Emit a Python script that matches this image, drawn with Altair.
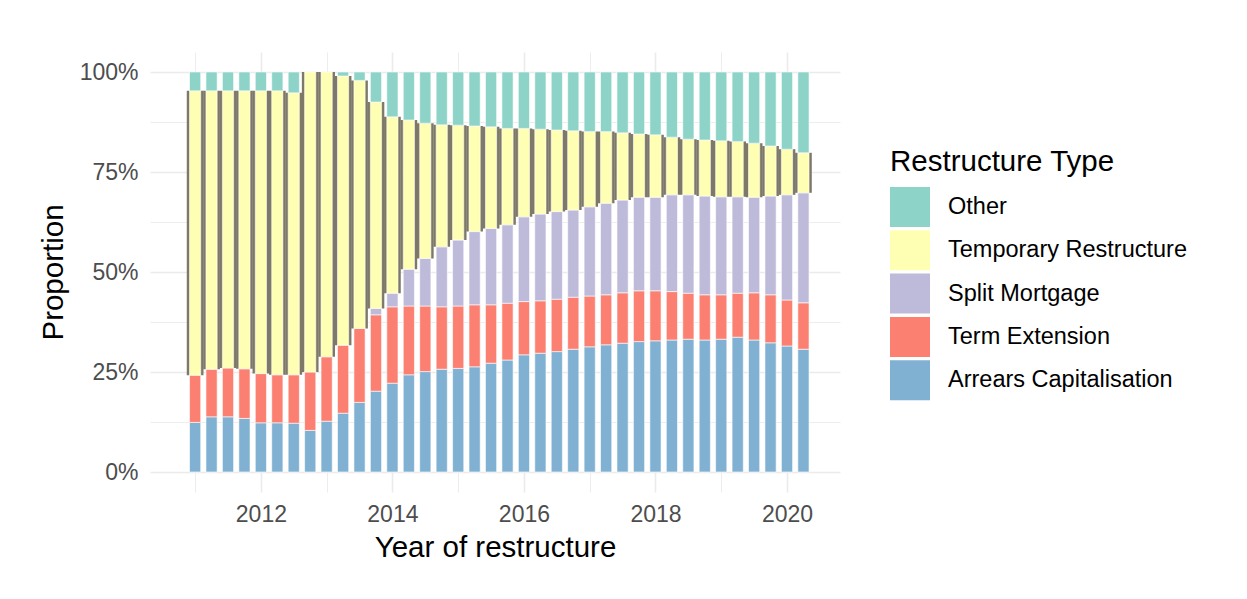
import altair as alt
import pandas as pd

# Quarterly periods (2011 Q1 .. 2020 Q2)
quarters = [f"{y}Q{q}" for y in range(2011, 2021) for q in range(1, 5)][:38]

# Proportions (%), per quarter
arrears = [12.4, 13.8, 13.8, 13.4, 12.3, 12.3, 12.2, 10.4, 12.7, 14.7,
           17.4, 20.2, 22.2, 24.3, 25.1, 25.7, 25.9, 26.3, 27.2, 28.0,
           29.3, 29.7, 30.1, 30.7, 31.3, 31.8, 32.2, 32.6, 32.8, 33.0,
           33.2, 33.0, 33.2, 33.7, 33.0, 32.3, 31.5, 30.7]
term = [11.8, 11.9, 12.2, 12.4, 12.3, 12.0, 12.1, 14.6, 16.1, 17.0,
        18.5, 19.1, 19.1, 17.2, 16.4, 15.6, 15.6, 15.5, 14.6, 14.2,
        13.3, 13.1, 13.1, 13.0, 12.7, 12.5, 12.6, 12.7, 12.5, 12.1,
        11.5, 11.3, 11.1, 11.0, 11.8, 12.0, 11.5, 11.6]
split = [0, 0, 0, 0, 0, 0, 0, 0, 0, 0,
         0, 1.6, 3.4, 9.2, 11.9, 15.0, 16.5, 18.3, 19.1, 19.6,
         21.2, 21.7, 21.9, 21.8, 22.3, 22.9, 23.2, 23.4, 23.4, 24.2,
         24.6, 24.7, 24.5, 24.1, 23.9, 24.7, 26.3, 27.5]
temporary = [71.1, 69.6, 69.3, 69.5, 70.7, 71.0, 70.5, 75.0, 71.2, 67.3,
             62.0, 51.6, 44.1, 37.3, 33.8, 30.5, 28.7, 26.4, 25.4, 24.1,
             22.1, 21.2, 20.4, 19.8, 18.8, 17.9, 16.8, 15.8, 15.6, 14.4,
             13.9, 14.0, 14.0, 13.8, 13.5, 12.5, 11.4, 10.0]
other = [4.7, 4.7, 4.7, 4.7, 4.7, 4.7, 5.2, 0, 0, 1.0,
         2.1, 7.5, 11.2, 12.0, 12.8, 13.2, 13.3, 13.5, 13.7, 14.1,
         14.1, 14.3, 14.5, 14.7, 14.9, 14.9, 15.2, 15.5, 15.7, 16.3,
         16.8, 17.0, 17.2, 17.4, 17.8, 18.5, 19.3, 20.2]

types = ["Other", "Temporary Restructure", "Split Mortgage",
         "Term Extension", "Arrears Capitalisation"]
colors = ["#8DD3C7", "#FFFFB3", "#BEBADA", "#FB8072", "#80B1D3"]

rows = []
for i, qlab in enumerate(quarters):
    yr = int(qlab[:4]) + (int(qlab[-1]) - 1) / 4
    vals = [("Arrears Capitalisation", arrears[i]), ("Term Extension", term[i]),
            ("Split Mortgage", split[i]), ("Temporary Restructure", temporary[i]),
            ("Other", other[i])]
    total = sum(v for _, v in vals)
    lo = 0.0
    for order, (name, v) in enumerate(vals):
        p = v / total
        if p > 0:
            rows.append(dict(quarter=qlab, year=yr, type=name, order=order,
                             prop=p, lo=lo, hi=lo + p))
        lo += p
df = pd.DataFrame(rows)

FONT = "Liberation Sans"

x_enc = alt.X(
    "year:Q",
    title="Year of restructure",
    scale=alt.Scale(domain=[2010.39, 2020.73], nice=False, zero=False),
    axis=alt.Axis(
        values=list(range(2011, 2021)),
        labelExpr="datum.value % 2 == 0 ? datum.label : ''",
        format="d",
        domain=False, ticks=False,
        grid=True, gridColor="#EBEBEB",
        gridWidth={"condition": {"test": "datum.value % 2 == 0", "value": 1.6}, "value": 0.9},
        labelFont=FONT, labelFontSize=23, labelColor="#4D4D4D", labelPadding=11,
        titleFont=FONT, titleFontSize=29.5, titleColor="#000000", titleFontWeight="normal",
        titleX=345, titleY=64, titleBaseline="alphabetic", titleAlign="center",
    ),
)
y_enc = alt.Y(
    "lo:Q",
    title="Proportion",
    scale=alt.Scale(domain=[-0.05, 1.05], nice=False, zero=False),
    axis=alt.Axis(
        values=[0, 0.125, 0.25, 0.375, 0.5, 0.625, 0.75, 0.875, 1.0],
        format=".0%",
        labelExpr="indexof(['0%','25%','50%','75%','100%'], datum.label) >= 0 ? datum.label : ''",
        domain=False, ticks=False,
        grid=True, gridColor="#EBEBEB",
        gridWidth={"condition": {"test": "abs(datum.value*4 - round(datum.value*4)) < 0.01", "value": 1.6}, "value": 0.9},
        labelFont=FONT, labelFontSize=23, labelColor="#4D4D4D", labelPadding=12,
        titleFont=FONT, titleFontSize=29.5, titleColor="#000000", titleFontWeight="normal",
        titleX=-88, titleY=220, titleAngle=270, titleBaseline="alphabetic", titleAlign="center",
    ),
)

shade = alt.Chart(df).transform_filter(
    alt.datum.type == "Temporary Restructure"
).mark_bar(size=16.7, color="#7d7868").encode(
    x=x_enc, y=y_enc, y2="hi:Q"
)

bars = alt.Chart(df).mark_bar(size=11.2, stroke="white", strokeWidth=0.6).encode(
    x=x_enc,
    y=y_enc,
    y2="hi:Q",
    color=alt.Color(
        "type:N",
        scale=alt.Scale(domain=types, range=colors),
        legend=alt.Legend(
            title="Restructure Type",
            orient="none", legendX=740, legendY=96, padding=0,
            symbolType="square", symbolSize=1600, symbolStrokeWidth=0,
            symbolOpacity=1,
            rowPadding=3.3, labelOffset=18, titlePadding=9.5,
            titleFont=FONT, titleFontSize=29.5, titleFontWeight="normal", titleColor="#000000",
            titleLimit=500,
            labelFont=FONT, labelFontSize=23.5, labelColor="#000000", labelLimit=400,
        ),
    ),
    order="order:Q",
    tooltip=["quarter:N", "type:N", alt.Tooltip("prop:Q", format=".1%")],
)

chart = alt.layer(shade, bars).properties(
    width=690, height=440,
    autosize=alt.AutoSizeParams(type="none"),
    padding={"left": 142, "top": 44, "right": 395, "bottom": 95},
    background="white",
).configure_view(stroke=None)

chart.save("out.html", embed_options={"renderer": "svg", "actions": False})
